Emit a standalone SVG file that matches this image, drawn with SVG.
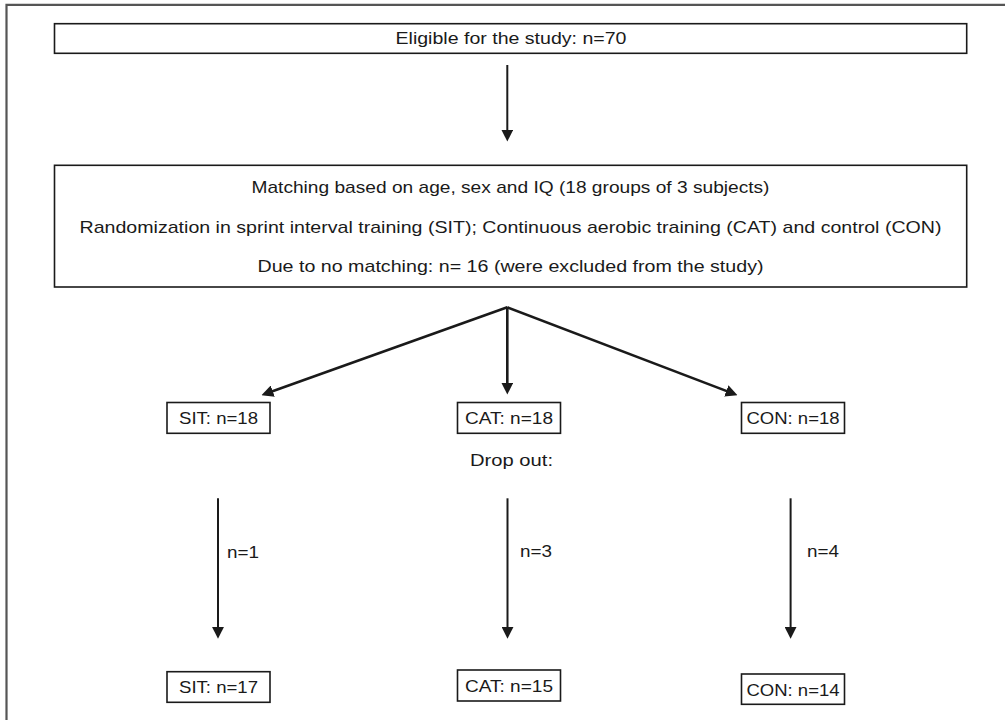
<svg xmlns="http://www.w3.org/2000/svg" width="1005" height="720" viewBox="0 0 1005 720">
<defs>
<marker id="ah" markerUnits="userSpaceOnUse" markerWidth="12" markerHeight="12" viewBox="0 0 11 11" refX="5" refY="5.5" orient="auto">
<path d="M0,0 L11,5.5 L0,11 z" fill="#1a1a1a"/>
</marker>
<style>
.box{fill:#fff;stroke:#1a1a1a;stroke-width:1.6}
.t{font-family:"Liberation Sans",Arial,sans-serif;font-size:17px;fill:#1a1a1a;lengthAdjust:spacingAndGlyphs}
.c{text-anchor:middle}
.ln{stroke:#1a1a1a;stroke-width:2;fill:none;marker-end:url(#ah)}
.fan{stroke:#1a1a1a;stroke-width:2.6;fill:none;marker-end:url(#ah)}
</style>
</defs>
<rect width="1005" height="720" fill="#fff"/>
<path d="M6.5,720 V4.8 H1005" fill="none" stroke="#555" stroke-width="2.2"/>

<g id="eligible">
<rect class="box" x="54.5" y="23.7" width="912.2" height="29.6"/>
<text class="t c" x="511" y="44" textLength="231" lengthAdjust="spacingAndGlyphs">Eligible for the study: n=70</text>
</g>

<g id="matching">
<rect class="box" x="54.5" y="165.3" width="912.2" height="121.7"/>
<text class="t c" x="510.5" y="193" textLength="518" lengthAdjust="spacingAndGlyphs">Matching based on age, sex and IQ (18 groups of 3 subjects)</text>
<text class="t c" x="510.5" y="233" textLength="862" lengthAdjust="spacingAndGlyphs">Randomization in sprint interval training (SIT); Continuous aerobic training (CAT) and control (CON)</text>
<text class="t c" x="510.5" y="272" textLength="506" lengthAdjust="spacingAndGlyphs">Due to no matching: n= 16 (were excluded from the study)</text>
</g>

<g id="sit18">
<rect class="box" x="167" y="402.5" width="103" height="30.8"/>
<text class="t c" x="218.5" y="424" textLength="79" lengthAdjust="spacingAndGlyphs">SIT: n=18</text>
</g>
<g id="cat18">
<rect class="box" x="457.5" y="402.5" width="103" height="30.8"/>
<text class="t c" x="509" y="424" textLength="88" lengthAdjust="spacingAndGlyphs">CAT: n=18</text>
</g>
<g id="con18">
<rect class="box" x="741.5" y="402.5" width="103" height="30.8"/>
<text class="t c" x="793" y="424" textLength="93" lengthAdjust="spacingAndGlyphs">CON: n=18</text>
</g>

<g id="dropout">
<text class="t c" x="511.5" y="465.5" textLength="83" lengthAdjust="spacingAndGlyphs">Drop out:</text>
</g>

<g id="sit17">
<rect class="box" x="167" y="671.7" width="103" height="30.6"/>
<text class="t c" x="218.5" y="693" textLength="79" lengthAdjust="spacingAndGlyphs">SIT: n=17</text>
</g>
<g id="cat15">
<rect class="box" x="457.5" y="670" width="103" height="31"/>
<text class="t c" x="509" y="691.5" textLength="88" lengthAdjust="spacingAndGlyphs">CAT: n=15</text>
</g>
<g id="con14">
<rect class="box" x="741.5" y="674" width="103" height="30.3"/>
<text class="t c" x="793" y="695.5" textLength="93" lengthAdjust="spacingAndGlyphs">CON: n=14</text>
</g>

<g id="connectors">
<line class="ln" x1="507.3" y1="65" x2="507.3" y2="135"/>
<line class="fan" x1="507.3" y1="307.3" x2="267.6" y2="393"/>
<line class="fan" x1="507.3" y1="307.3" x2="507.3" y2="388"/>
<line class="fan" x1="507.3" y1="307.3" x2="731.4" y2="392.9"/>
<line class="ln" x1="218" y1="498.3" x2="218" y2="632.3"/>
<line class="ln" x1="507.5" y1="498.3" x2="507.5" y2="632.3"/>
<line class="ln" x1="790.6" y1="498.3" x2="790.6" y2="632.3"/>
<text class="t" x="227" y="558" textLength="32" lengthAdjust="spacingAndGlyphs">n=1</text>
<text class="t" x="520" y="556.5" textLength="32" lengthAdjust="spacingAndGlyphs">n=3</text>
<text class="t" x="807" y="556.5" textLength="32" lengthAdjust="spacingAndGlyphs">n=4</text>
</g>
</svg>
